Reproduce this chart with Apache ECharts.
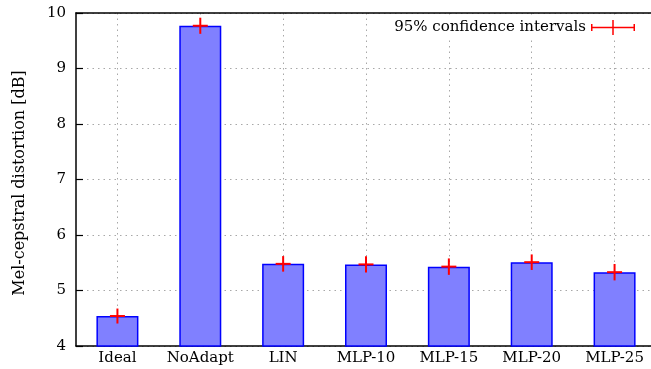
<!DOCTYPE html>
<html><head><meta charset="utf-8">
<script src="https://cdn.jsdelivr.net/npm/echarts@6/dist/echarts.min.js"></script>
<style>html,body{margin:0;padding:0;background:#fff}#c{width:651px;height:369px}</style>
</head><body><div id="c"></div>
<script>
const categories = ['Ideal', 'NoAdapt', 'LIN', 'MLP-10', 'MLP-15', 'MLP-20', 'MLP-25'];
const distortion = [4.54, 9.77, 5.48, 5.47, 5.43, 5.51, 5.33];
const ci95 = [0.135, 0.145, 0.14, 0.145, 0.148, 0.14, 0.148];
const yMin = 4, yMax = 10, yStep = 1;
const legendLabel = '95% confidence intervals';
const yTitle = 'Mel-cepstral distortion [dB]';
const FONT = 'DejaVu Serif';

const errData = categories.map((c, i) => [i, distortion[i] - ci95[i], distortion[i] + ci95[i], distortion[i]]);

const chart = echarts.init(document.getElementById('c'), null, {renderer: 'canvas'});
const black = '#000';
const gridLine = {show: true, lineStyle: {color: '#a8a8a8', width: 1, type: [1.5, 4]}};

chart.setOption({
  animation: false,
  textStyle: {fontFamily: FONT},
  grid: {left: 76, top: 13, width: 580, height: 333, containLabel: false, outerBoundsMode: 'none'},
  legend: {
    data: [{name: legendLabel, icon: 'path://M0,6.75H44V8.25H0Z M0,4H1.5V11H0Z M42.5,4H44V11H42.5Z M21.25,0H22.75V15H21.25Z'}],
    right: 12, top: 16, itemWidth: 44, itemHeight: 15, align: 'right',
    backgroundColor: '#fff', padding: [4, 4, 4, 8],
    textStyle: {fontFamily: FONT, fontSize: 15, color: black},
    itemStyle: {color: '#ff0000'}
  },
  xAxis: [{
    type: 'category', data: categories, position: 'bottom', boundaryGap: true,
    axisLine: {lineStyle: {color: black, width: 1.5}},
    axisTick: {inside: true, alignWithLabel: true, length: 6, lineStyle: {color: black, width: 1.2}},
    axisLabel: {color: black, fontFamily: FONT, fontSize: 15, margin: 5, interval: 0, hideOverlap: false},
    splitLine: Object.assign({alignWithLabel: true}, gridLine)
  }, {
    type: 'category', data: categories, position: 'top', boundaryGap: true, z: 10,
    axisLine: {lineStyle: {color: black, width: 1.5}},
    axisTick: {inside: true, alignWithLabel: true, length: 6, lineStyle: {color: black, width: 1.2}},
    axisLabel: {show: false},
    splitLine: {show: false}
  }],
  yAxis: [{
    type: 'value', min: yMin, max: yMax, interval: yStep,
    name: yTitle, nameLocation: 'middle', nameGap: 48,
    nameTextStyle: {fontFamily: FONT, fontSize: 16, color: black, padding: [0, 7, 0, 0]},
    axisLine: {show: true, lineStyle: {color: black, width: 1.5}},
    axisTick: {show: true, inside: true, length: 7, lineStyle: {color: black, width: 1.2}},
    axisLabel: {color: black, fontFamily: FONT, fontSize: 15, margin: 10},
    splitLine: gridLine
  }],
  series: [{
    type: 'bar', name: 'bars', data: distortion, barWidth: 42, xAxisIndex: 0, z: 2,
    itemStyle: {color: '#8080ff', borderColor: '#0000ff', borderWidth: 1.5}
  }, {
    type: 'custom', name: legendLabel, data: errData, xAxisIndex: 0, z: 5,
    itemStyle: {color: '#ff0000'},
    encode: {x: 0, y: [1, 2, 3]},
    renderItem: function (params, api) {
      const x = api.value(0);
      const lo = api.coord([x, api.value(1)]);
      const hi = api.coord([x, api.value(2)]);
      const mid = api.coord([x, api.value(3)]);
      const style = {stroke: '#ff0000', lineWidth: 2};
      return {type: 'group', children: [
        {type: 'line', shape: {x1: lo[0], y1: lo[1], x2: hi[0], y2: hi[1]}, style: style},
        {type: 'line', shape: {x1: mid[0] - 7.5, y1: mid[1], x2: mid[0] + 7.5, y2: mid[1]}, style: style}
      ]};
    }
  }]
});
</script></body></html>
